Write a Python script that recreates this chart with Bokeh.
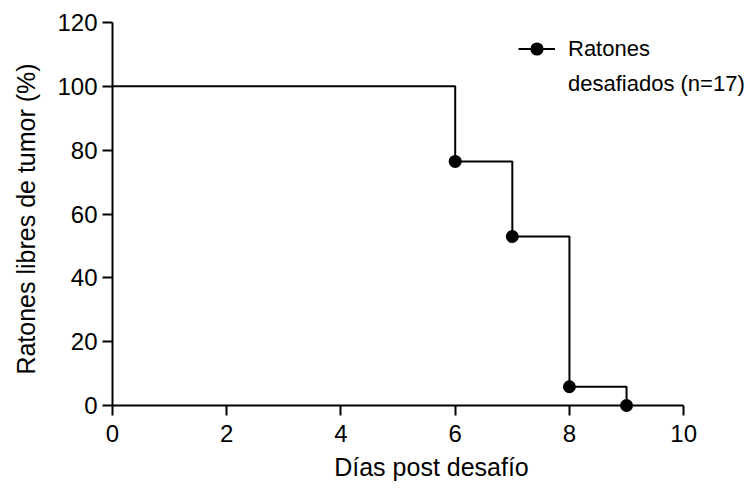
from bokeh.plotting import figure
from bokeh.models import Range1d, Legend, LegendItem, FixedTicker, LinearAxis
from bokeh.embed import file_html
from bokeh.resources import INLINE

# Data (Kaplan-Meier, n=17)
days = [0, 6, 7, 8, 9]
survival = [100, 76.47, 52.94, 5.88, 0]
event_days = [6, 7, 8, 9]
event_survival = [76.47, 52.94, 5.88, 0]
x_ticks = [0, 2, 4, 6, 8, 10]
y_ticks = [0, 20, 40, 60, 80, 100, 120]
legend_line1 = "Ratones"
legend_line2 = "desafiados (n=17)"

FONT = "Liberation Sans"

p = figure(width=750, height=489, output_backend="svg", toolbar_location=None,
           x_range=Range1d(0, 11.17), y_range=Range1d(-3.13, 120),
           min_border_left=112, min_border_right=0, min_border_top=22, min_border_bottom=74)
p.outline_line_color = None
p.grid.visible = False
p.background_fill_color = "white"

line = p.step(days, survival, mode="after", line_color="black", line_width=2)
pts = p.scatter(event_days, event_survival, size=13, color="black", line_width=0)
dummy = p.scatter([], [], size=13, alpha=0)

def style(ax):
    ax.axis_line_width = 2
    ax.axis_line_color = "black"
    ax.major_tick_line_width = 2
    ax.major_tick_line_color = "black"
    ax.major_tick_out = 10
    ax.major_tick_in = 0
    ax.minor_tick_line_color = None
    ax.major_label_text_font = FONT
    ax.major_label_text_font_size = "24px"
    ax.major_label_text_color = "black"
    ax.axis_label_text_font = FONT
    ax.axis_label_text_font_size = "25px"
    ax.axis_label_text_font_style = "normal"
    ax.axis_label_text_color = "black"

style(p.xaxis[0])
style(p.yaxis[0])

# y axis
p.yaxis.ticker = FixedTicker(ticks=y_ticks)
p.yaxis.bounds = (0, 120)
p.yaxis.axis_label = "Ratones libres de tumor (%)"
p.yaxis.major_label_standoff = 5
p.yaxis.axis_label_standoff = 14

# x axis: ticks and labels (at frame bottom, ticks reach up to y = 0)
xlab = p.xaxis[0]
xlab.ticker = FixedTicker(ticks=x_ticks)
xlab.axis_line_color = None
xlab.major_tick_out = 0
xlab.major_tick_in = 10
xlab.axis_label = "Días post desafío"
xlab.major_label_standoff = 9
xlab.axis_label_standoff = 8

# x axis line at y = 0
xline = LinearAxis(ticker=FixedTicker(ticks=x_ticks), fixed_location=0, bounds=(0, 10))
style(xline)
xline.major_tick_line_color = None
xline.major_tick_out = 0
xline.major_label_text_alpha = 0
xline.major_label_text_font_size = "1px"
xline.major_label_standoff = 0
p.add_layout(xline, "above")

legend = Legend(items=[LegendItem(label=legend_line1, renderers=[line, pts]),
                       LegendItem(label=legend_line2, renderers=[dummy])],
                location=(406, 315), border_line_color=None, background_fill_alpha=0,
                label_text_font=FONT, label_text_font_size="22px", label_text_color="black",
                glyph_width=37, glyph_height=33, label_standoff=13,
                padding=0, margin=0, spacing=2)
p.add_layout(legend)

open("out.html", "w").write(file_html(p, INLINE))
